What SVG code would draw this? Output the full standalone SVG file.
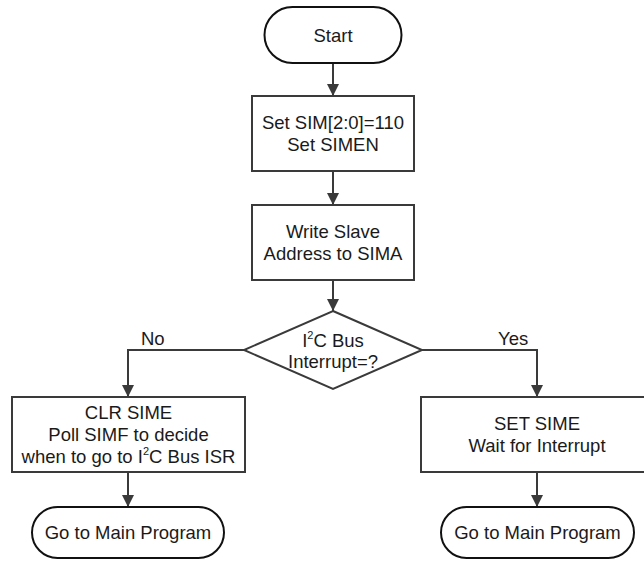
<svg xmlns="http://www.w3.org/2000/svg" width="644" height="561" viewBox="0 0 644 561">
<style>
  .t{font-family:"Liberation Sans",Arial,sans-serif;font-size:18.5px;fill:#1a1a1a;text-anchor:middle}
  .lbl{font-family:"Liberation Sans",Arial,sans-serif;font-size:18.5px;fill:#1a1a1a}
  .term{fill:#fff;stroke:#111;stroke-width:2}
  .box{fill:#fff;stroke:#3a3a3a;stroke-width:2}
  .conn{fill:none;stroke:#3a3a3a;stroke-width:2}
  .sup{font-size:11px}
</style>
<defs>
  <marker id="arr" markerUnits="userSpaceOnUse" markerWidth="12" markerHeight="13" refX="12" refY="6" orient="auto">
    <path d="M0,0 L12,6 L0,12 Z" fill="#3a3a3a"/>
  </marker>
</defs>
<g id="connectors">
  <line class="conn" x1="333" y1="63" x2="333" y2="96" marker-end="url(#arr)"/>
  <line class="conn" x1="333" y1="171" x2="333" y2="205" marker-end="url(#arr)"/>
  <line class="conn" x1="333" y1="280" x2="333" y2="311" marker-end="url(#arr)"/>
  <polyline class="conn" points="244,350 128,350 128,397" marker-end="url(#arr)"/>
  <polyline class="conn" points="422,350 537,350 537,397" marker-end="url(#arr)"/>
  <line class="conn" x1="128" y1="472" x2="128" y2="507" marker-end="url(#arr)"/>
  <line class="conn" x1="537" y1="472" x2="537" y2="507" marker-end="url(#arr)"/>
  <text class="lbl" x="141" y="345">No</text>
  <text class="lbl" x="498" y="345">Yes</text>
</g>
<g id="start">
  <rect class="term" x="264.5" y="7" width="137" height="56" rx="28"/>
  <text class="t" x="333" y="41.5">Start</text>
</g>
<g id="setsim">
  <rect class="box" x="252" y="96" width="162" height="75"/>
  <text class="t" x="333" y="129">Set SIM[2:0]=110</text>
  <text class="t" x="333" y="151">Set SIMEN</text>
</g>
<g id="writeaddr">
  <rect class="box" x="252" y="205" width="162" height="75"/>
  <text class="t" x="333" y="238">Write Slave</text>
  <text class="t" x="333" y="260">Address to SIMA</text>
</g>
<g id="decision">
  <polygon class="box" points="333,311 422,350 333,389 244,350"/>
  <text class="t" x="333" y="347">I<tspan class="sup" dy="-8">2</tspan><tspan dy="8">C Bus</tspan></text>
  <text class="t" x="333" y="368">Interrupt=?</text>
</g>
<g id="clrsime">
  <rect class="box" x="12" y="397" width="233" height="75"/>
  <text class="t" x="128.5" y="419">CLR SIME</text>
  <text class="t" x="128.5" y="441">Poll SIMF to decide</text>
  <text class="t" x="128.5" y="463">when to go to I<tspan class="sup" dy="-8">2</tspan><tspan dy="8">C Bus ISR</tspan></text>
</g>
<g id="setsime">
  <rect class="box" x="421" y="397" width="233" height="75"/>
  <text class="t" x="537" y="430">SET SIME</text>
  <text class="t" x="537" y="452">Wait for Interrupt</text>
</g>
<g id="main-left">
  <rect class="term" x="32" y="507" width="192" height="51" rx="25.5"/>
  <text class="t" x="128" y="539">Go to Main Program</text>
</g>
<g id="main-right">
  <rect class="term" x="441" y="507" width="193" height="51" rx="25.5"/>
  <text class="t" x="537.5" y="539">Go to Main Program</text>
</g>
</svg>
